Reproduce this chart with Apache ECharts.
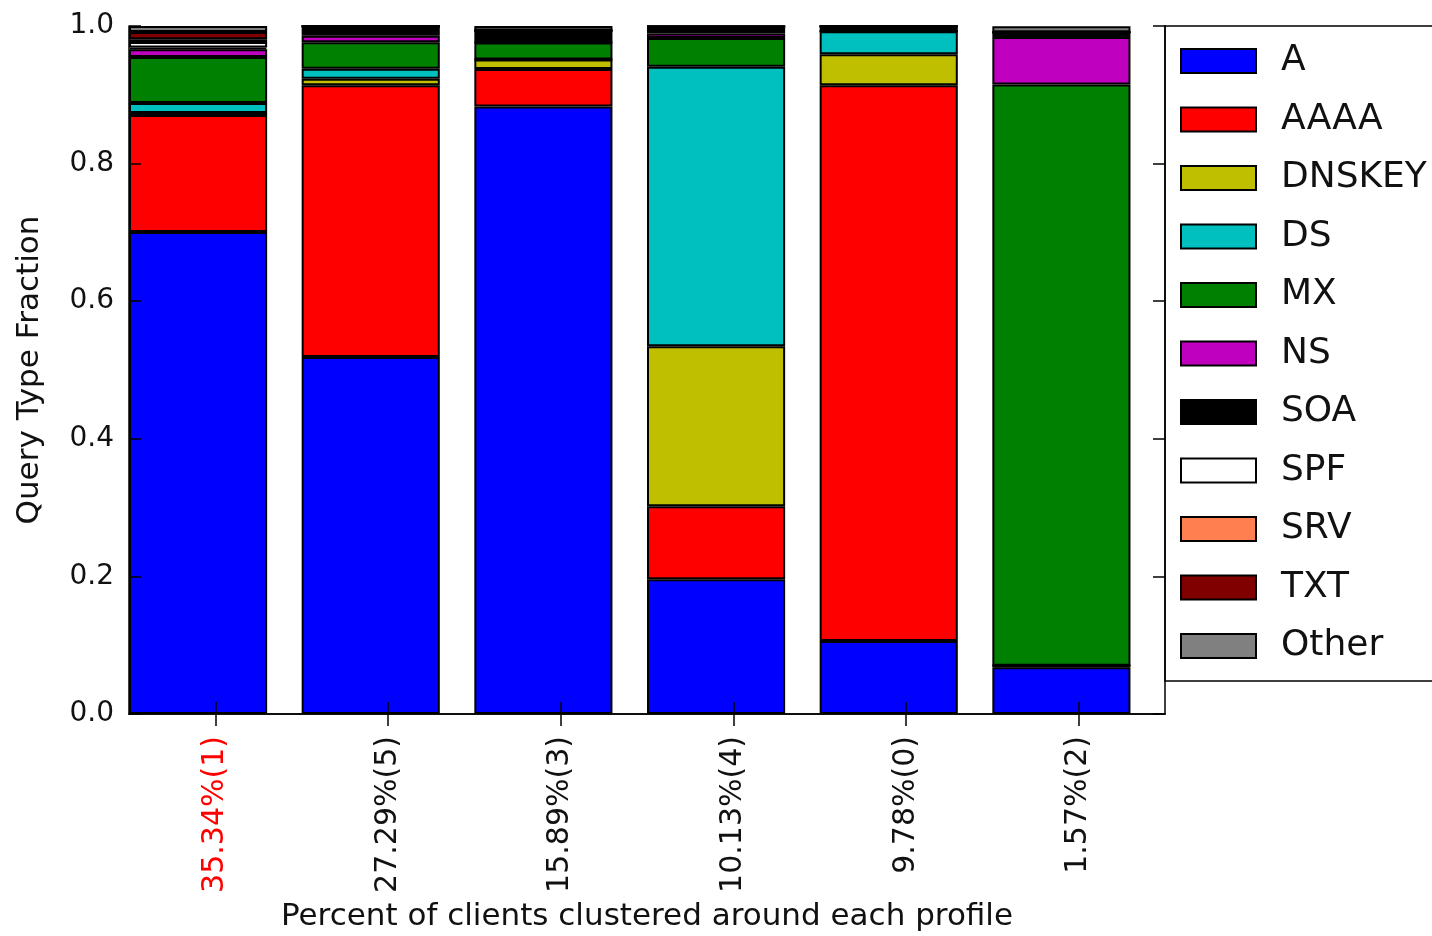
<!DOCTYPE html>
<html>
<head>
<meta charset="utf-8">
<title>Query Type Fraction</title>
<script src="https://cdn.jsdelivr.net/npm/echarts@6/dist/echarts.min.js"></script>
<style>
  html, body { margin: 0; padding: 0; background: #fff; }
  #chart { width: 1432px; height: 936px; }
</style>
</head>
<body>
<div id="chart"></div>
<script>
// profiles (x axis), largest cluster first
const profiles = ['35.34%(1)', '27.29%(5)', '15.89%(3)', '10.13%(4)', '9.78%(0)', '1.57%(2)']
const yTicks = [0, 0.2, 0.4, 0.6, 0.8, 1.0]

// query type fractions per profile, stacked bottom to top
const qA      = [0.7006, 0.519,  0.883,  0.196,  0.106,  0.068]
const qAAAA   = [0.170,  0.395,  0.0545, 0.106,  0.808,  0.002]
const qDNSKEY = [0.003,  0.0095, 0.0138, 0.2326, 0.045,  0]
const qDS     = [0.0145, 0.0145, 0,      0.406,  0.0334, 0]
const qMX     = [0.0668, 0.0385, 0.0247, 0.042,  0,      0.845]
const qNS     = [0.0113, 0.0095, 0,      0.0065, 0,      0.069]
const qSOA    = [0.0025, 0.0138, 0.0174, 0.0102, 0.0073, 0.007]
const qSPF    = [0.008,  0,      0,      0,      0,      0]
const qSRV    = [0.004,  0,      0,      0,      0,      0]
const qTXT    = [0.0106, 0,      0,      0,      0,      0]
const qOther  = [0.0087, 0,      0.0065, 0,      0,      0.0087]

const types = [
  { name: 'A', data: qA, color: '#0000ff' },
  { name: 'AAAA', data: qAAAA, color: '#ff0000' },
  { name: 'DNSKEY', data: qDNSKEY, color: '#bfbf00' },
  { name: 'DS', data: qDS, color: '#00bfbf' },
  { name: 'MX', data: qMX, color: '#008000' },
  { name: 'NS', data: qNS, color: '#bf00bf' },
  { name: 'SOA', data: qSOA, color: '#000000' },
  { name: 'SPF', data: qSPF, color: '#ffffff' },
  { name: 'SRV', data: qSRV, color: '#ff7f50' },
  { name: 'TXT', data: qTXT, color: '#800000' },
  { name: 'Other', data: qOther, color: '#808080' },
]

const font = 'DejaVu Sans'
const ink = '#111'

// plot frame: x 129..1165, y 26..714
const plotLeft = 129
const plotWidth = 1036
const band = plotWidth / profiles.length
// matplotlib bars sit on the left edge of each slot (0..0.8), ticks at slot + 0.5
const barShift = band * 0.1

const chart = echarts.init(document.getElementById('chart'), null, { renderer: 'canvas' })

const frameLine = { show: true, lineStyle: { color: '#000', width: 1.5 } }
const frameTick = { show: true, inside: true, length: 12, lineStyle: { color: '#000', width: 1.5 } }

chart.setOption({
  backgroundColor: '#fff',
  animation: false,
  textStyle: { fontFamily: font },
  grid: [
    // bars
    { left: plotLeft - barShift, top: 26, width: plotWidth, bottom: 222, outerBoundsMode: 'none' },
    // frame, ticks, labels
    { left: plotLeft, top: 26, width: plotWidth, bottom: 222, outerBoundsMode: 'none' },
  ],
  legend: {
    orient: 'vertical',
    left: 1165,
    top: 26,
    padding: [17, 8, 17, 15],
    itemWidth: 75,
    itemHeight: 24,
    itemGap: 22.5,
    icon: 'rect',
    selectedMode: false,
    backgroundColor: '#fff',
    borderColor: '#000',
    borderWidth: 1.5,
    borderRadius: 0,
    itemStyle: { borderColor: '#000', borderWidth: 2 },
    textStyle: { fontFamily: font, fontSize: 36, color: ink, padding: [0, 0, 0, 20] },
    data: types.map((t) => t.name),
  },
  xAxis: [
    { type: 'category', gridIndex: 0, data: profiles, show: false },
    {
      type: 'category',
      gridIndex: 1,
      position: 'bottom',
      z: 10,
      data: profiles.map((p, i) => (i === 0 ? { value: p, textStyle: { color: '#ff0000' } } : p)),
      axisLine: frameLine,
      axisTick: { ...frameTick, alignWithLabel: true },
      axisLabel: { rotate: 90, margin: 22, fontSize: 30, color: ink, fontFamily: font },
      splitLine: { show: false },
      name: 'Percent of clients clustered around each profile',
      nameLocation: 'middle',
      nameGap: 187,
      nameTextStyle: { fontSize: 31, color: ink, fontFamily: font },
    },
    {
      type: 'category',
      gridIndex: 1,
      position: 'top',
      z: 10,
      data: profiles,
      axisLine: frameLine,
      axisTick: { ...frameTick, alignWithLabel: true },
      axisLabel: { show: false },
      splitLine: { show: false },
    },
  ],
  yAxis: [
    { type: 'value', gridIndex: 0, min: 0, max: 1, show: false },
    {
      type: 'value',
      gridIndex: 1,
      position: 'left',
      z: 10,
      min: yTicks[0],
      max: yTicks[yTicks.length - 1],
      interval: 0.2,
      axisLine: frameLine,
      axisTick: frameTick,
      axisLabel: { fontSize: 28, color: ink, margin: 15, fontFamily: font, formatter: (v) => v.toFixed(1) },
      splitLine: { show: false },
      name: 'Query Type Fraction',
      nameLocation: 'middle',
      nameGap: 84,
      nameTextStyle: { fontSize: 31, color: ink, fontFamily: font },
    },
    {
      type: 'value',
      gridIndex: 1,
      position: 'right',
      z: 10,
      min: yTicks[0],
      max: yTicks[yTicks.length - 1],
      interval: 0.2,
      axisLine: frameLine,
      axisTick: frameTick,
      axisLabel: { show: false },
      splitLine: { show: false },
    },
  ],
  series: types.map((t) => ({
    name: t.name,
    type: 'bar',
    stack: 'total',
    xAxisIndex: 0,
    yAxisIndex: 0,
    barWidth: '80%',
    itemStyle: { color: t.color, borderColor: '#000', borderWidth: 2 },
    emphasis: { disabled: true },
    data: t.data,
  })),
})
</script>
</body>
</html>
